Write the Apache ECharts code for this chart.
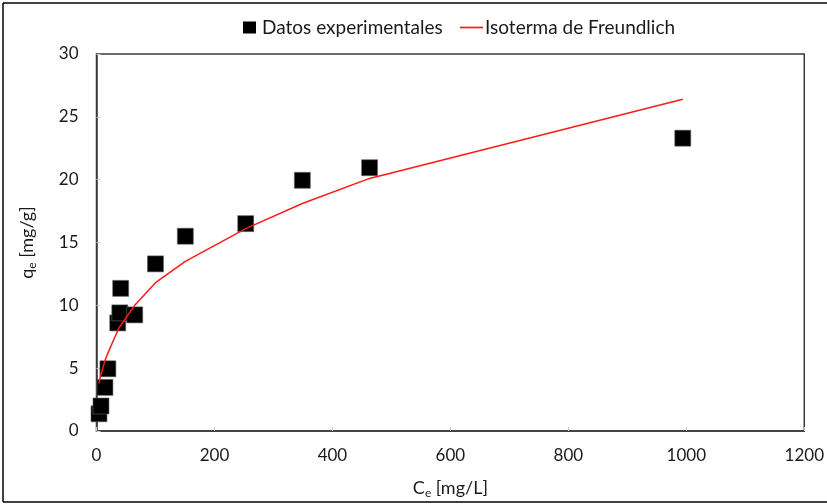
<!DOCTYPE html>
<html>
<head>
<meta charset="utf-8">
<script src="https://cdn.jsdelivr.net/npm/echarts@6/dist/echarts.min.js"></script>
<style>
  html, body { margin: 0; padding: 0; background: #fff; }
  #chart { width: 827px; height: 504px; }
</style>
</head>
<body>
<div id="chart"></div>
<script>
// Equilibrium concentration Ce [mg/L] and adsorbed amount qe [mg/g]
const ceExp = [4.2, 7.6, 14.3, 19.3, 36, 39.5, 41, 64.8, 100, 150.6, 253, 349, 463, 994];
const qeExp = [1.37, 1.99, 3.47, 4.95, 8.6, 9.4, 11.35, 9.24, 13.3, 15.5, 16.5, 19.95, 20.95, 23.3];

// Freundlich model values at the same concentrations
const qeFreundlich = [3.8, 4.5, 5.6, 6.2, 8.0, 8.3, 8.4, 10.0, 11.8, 13.5, 16.1, 18.1, 20.1, 26.4];

const xTicks = [0, 200, 400, 600, 800, 1000, 1200];
const yTicks = [0, 5, 10, 15, 20, 25, 30];

const FONT = 'Lato, "Open Sans", sans-serif';
const TXT = '#1a1a1a';

const subRich = {
  b: { fontFamily: FONT, fontSize: 18, color: TXT },
  s: { fontFamily: FONT, fontSize: 12, color: TXT, verticalAlign: 'bottom', padding: [10, 0, 0, 0] }
};

const chart = echarts.init(document.getElementById('chart'), null, { renderer: 'canvas' });

chart.setOption({
  animation: false,
  backgroundColor: '#fff',
  textStyle: { fontFamily: FONT },
  legend: [
    {
      left: 238, top: 13,
      itemWidth: 13, itemHeight: 12,
      textStyle: { fontFamily: FONT, fontSize: 19, color: TXT, padding: [0, 0, 0, 1] },
      data: [{ name: 'Datos experimentales', icon: 'rect', itemStyle: { color: '#000', borderWidth: 0 } }]
    },
    {
      left: 455, top: 13,
      itemWidth: 23, itemHeight: 12,
      textStyle: { fontFamily: FONT, fontSize: 19, color: TXT, padding: [0, 0, 0, -3] },
      data: [{ name: 'Isoterma de Freundlich', icon: 'path://M0 0H40V3H0Z', itemStyle: { color: '#ff1a1a' } }]
    }
  ],
  grid: {
    left: 96.5, right: 17, top: 54, bottom: 65.5,
    show: true, borderColor: '#3a3a3a', borderWidth: 1.5, backgroundColor: '#fff'
  },
  xAxis: {
    type: 'value',
    min: xTicks[0], max: xTicks[xTicks.length - 1], interval: 200,
    name: '{b|C}{s|e}{b| [mg/L]}',
    nameLocation: 'middle', nameGap: 46,
    nameTextStyle: { rich: subRich },
    axisLine: { show: true, lineStyle: { color: '#3a3a3a', width: 1.5 } },
    axisTick: { show: true, inside: true, length: 4, lineStyle: { color: '#ccc' } },
    axisLabel: { fontFamily: FONT, fontSize: 17, color: TXT, margin: 16, formatter: v => String(v) },
    splitLine: { show: false }
  },
  yAxis: {
    type: 'value',
    min: yTicks[0], max: yTicks[yTicks.length - 1], interval: 5,
    name: '{b|q}{s|e}{b| [mg/g]}',
    nameLocation: 'middle', nameGap: 58, nameRotate: 90,
    nameTextStyle: { rich: subRich },
    axisLine: { show: true, lineStyle: { color: '#3a3a3a', width: 1.5 } },
    axisTick: { show: true, inside: true, length: 4, lineStyle: { color: '#ccc' } },
    axisLabel: { fontFamily: FONT, fontSize: 17, color: TXT, margin: 18, formatter: v => String(v) },
    splitLine: { show: false }
  },
  series: [
    {
      name: 'Datos experimentales',
      type: 'scatter',
      symbol: 'rect',
      symbolSize: 16,
      itemStyle: { color: '#000', opacity: 1, borderColor: '#666', borderWidth: 0.6 },
      data: ceExp.map((c, i) => [c, qeExp[i]]),
      z: 3
    },
    {
      name: 'Isoterma de Freundlich',
      type: 'line',
      showSymbol: false,
      symbol: 'none',
      smooth: false,
      lineStyle: { color: '#ff1a1a', width: 1.5 },
      itemStyle: { color: '#ff1a1a' },
      data: ceExp.map((c, i) => [c, qeFreundlich[i]]),
      z: 4
    }
  ],
  graphic: [
    { type: 'line', shape: { x1: 3, y1: 3, x2: 827, y2: 3 }, style: { stroke: '#000', lineWidth: 1.5 } },
    { type: 'line', shape: { x1: 3, y1: 3, x2: 3, y2: 502 }, style: { stroke: '#000', lineWidth: 1.5 } },
    { type: 'line', shape: { x1: 3, y1: 502, x2: 827, y2: 502 }, style: { stroke: '#000', lineWidth: 1.5 } }
  ]
});
</script>
</body>
</html>
